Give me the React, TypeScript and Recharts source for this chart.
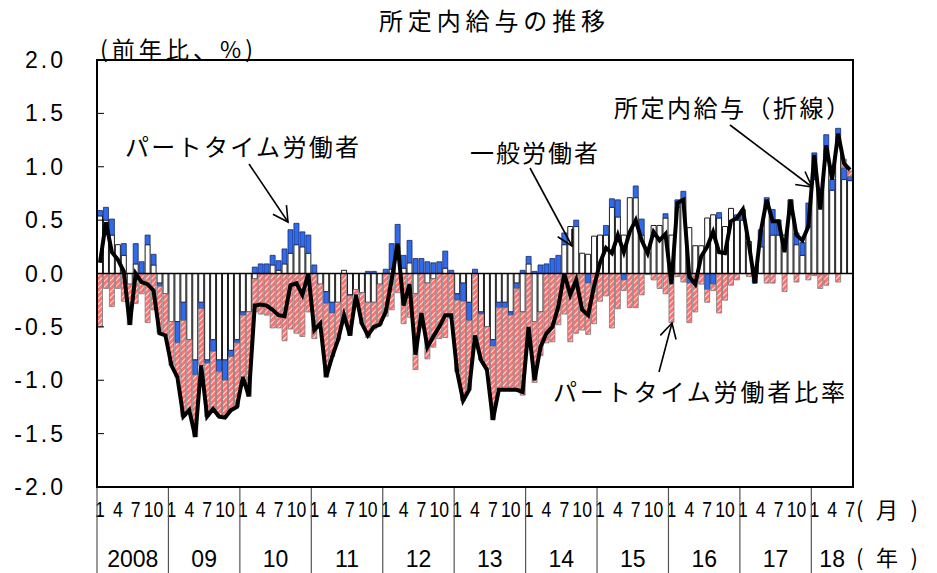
import React from 'react';
import { ComposedChart, Bar, Line, XAxis, YAxis, ReferenceLine } from 'recharts';

const yearLabels = ['2008', '09', '10', '11', '12', '13', '14', '15', '16', '17', '18'];
const monthsPerYear = [12, 12, 12, 12, 12, 12, 12, 12, 12, 12, 7];
const monthTickLabels = [1, 4, 7, 10];
const yTicks = [-2, -1.5, -1, -0.5, 0, 0.5, 1, 1.5, 2];

// 一般労働者 (contribution)
const general = [
  0.54, 0.50, 0.36, 0.27, 0.17, -0.10, 0.09, 0.00, 0.27, 0.08, -0.09, -0.19,
  -0.45, -0.45, -0.27, -0.62, -0.81, -0.27, -0.81, -0.62, -0.81, -0.81, -0.72, -0.62,
  -0.36, -0.36, -0.05, 0.00, 0.00, 0.08, 0.03, 0.09, 0.19, 0.27, 0.25, 0.19,
  0.00, -0.10, -0.17, -0.27, -0.27, 0.03, -0.20, -0.15, -0.18, -0.27, -0.27, -0.10,
  0.00, 0.04, 0.25, 0.05, 0.10, -0.19, 0.00, -0.09, -0.05, 0.00, 0.05, 0.00,
  -0.19, -0.09, -0.27, 0.00, -0.36, -0.50, -0.62, -0.27, -0.27, -0.36, -0.09, -0.36,
  0.09, -0.45, -0.36, 0.00, 0.00, 0.00, 0.27, 0.44, 0.44, 0.19, 0.18, 0.35,
  0.36, 0.36, 0.62, 0.53, 0.36, 0.71, 0.71, 0.36, 0.20, 0.45, 0.45, 0.52,
  0.36, 0.62, 0.70, 0.43, 0.26, 0.26, 0.52, 0.55, 0.52, 0.44, 0.61, 0.50,
  0.50, 0.30, 0.00, 0.25, 0.66, 0.36, 0.36, 0.36, 0.69, 0.27, 0.17, 0.44,
  0.88, 0.74, 1.16, 0.78, 1.25, 0.88, 0.87,
];

// パートタイム労働者 (contribution)
const partTime = [
  0.05, 0.12, 0.15, 0.00, 0.11, 0.00, 0.19, 0.11, 0.09, 0.10, -0.03, 0.00,
  0.00, -0.20, -0.17, 0.00, -0.14, -0.06, -0.03, -0.11, -0.11, -0.19, -0.06, -0.03,
  -0.03, 0.00, 0.06, 0.09, 0.09, 0.09, 0.09, 0.14, 0.22, 0.20, 0.14, 0.17,
  0.08, 0.00, -0.11, -0.10, 0.00, 0.00, -0.01, 0.00, 0.00, 0.02, 0.02, 0.00,
  0.04, 0.24, 0.21, 0.12, 0.21, 0.14, 0.14, 0.11, 0.10, 0.11, 0.16, 0.03,
  -0.06, -0.17, -0.17, 0.04, -0.02, 0.00, -0.06, -0.05, -0.05, -0.03, -0.05, 0.03,
  0.07, 0.02, 0.08, 0.09, 0.14, 0.17, 0.11, 0.00, 0.06, 0.00, -0.09, 0.00,
  0.00, 0.09, 0.08, 0.16, -0.06, 0.00, 0.11, 0.15, 0.00, 0.00, 0.00, 0.04,
  0.00, 0.07, 0.07, -0.09, 0.00, 0.00, -0.15, -0.10, 0.05, 0.00, 0.00, 0.05,
  0.10, 0.00, -0.09, 0.16, 0.05, 0.24, 0.14, 0.00, 0.00, 0.11, 0.12, 0.22,
  0.25, 0.00, 0.14, 0.10, 0.11, 0.11, 0.04,
];

// パートタイム労働者比率 (contribution)
const ptRatio = [
  -0.50, -0.14, -0.31, -0.14, -0.26, -0.38, -0.28, -0.19, -0.46, -0.34, -0.44, -0.39,
  -0.41, -0.32, -0.90, -0.66, -0.58, -0.53, -0.50, -0.54, -0.42, -0.35, -0.50, -0.60,
  -0.58, -0.79, -0.31, -0.38, -0.39, -0.51, -0.51, -0.63, -0.52, -0.56, -0.59, -0.36,
  -0.61, -0.37, -0.69, -0.41, -0.35, -0.42, -0.37, -0.05, -0.29, -0.33, -0.25, -0.38,
  -0.40, -0.34, -0.18, -0.47, -0.41, -0.71, -0.51, -0.71, -0.64, -0.61, -0.60, -0.42,
  -0.67, -0.93, -0.65, -0.62, -0.43, -0.40, -0.69, -0.77, -0.77, -0.70, -0.95, -0.78,
  -0.66, -0.57, -0.41, -0.65, -0.64, -0.48, -0.38, -0.64, -0.56, -0.53, -0.48, -0.47,
  -0.26, -0.21, -0.51, -0.33, -0.10, -0.32, -0.32, -0.20, -0.01, -0.06, -0.14, -0.19,
  -0.46, -0.03, -0.08, -0.37, -0.36, -0.10, -0.12, -0.06, -0.37, -0.25, -0.11, -0.06,
  0.00, -0.03, 0.00, 0.00, -0.09, -0.09, 0.00, -0.17, 0.00, -0.08, 0.00, -0.06,
  -0.02, -0.14, -0.11, 0.00, -0.08, 0.08, 0.05,
];

// 所定内給与 (line)
const wageTotal = [
  0.10, 0.48, 0.20, 0.13, 0.02, -0.48, 0.00, -0.08, -0.10, -0.16, -0.56, -0.58,
  -0.86, -0.97, -1.34, -1.28, -1.53, -0.86, -1.34, -1.27, -1.34, -1.35, -1.28, -1.25,
  -0.97, -1.15, -0.30, -0.29, -0.30, -0.34, -0.39, -0.40, -0.11, -0.09, -0.20, 0.00,
  -0.53, -0.47, -0.97, -0.78, -0.62, -0.39, -0.58, -0.20, -0.47, -0.58, -0.50, -0.48,
  -0.36, -0.06, 0.28, -0.30, -0.10, -0.76, -0.37, -0.69, -0.59, -0.50, -0.39, -0.39,
  -0.92, -1.19, -1.09, -0.58, -0.81, -0.90, -1.37, -1.09, -1.09, -1.09, -1.09, -1.11,
  -0.50, -1.00, -0.69, -0.56, -0.50, -0.31, 0.00, -0.20, -0.06, -0.34, -0.39, -0.12,
  0.10, 0.24, 0.19, 0.36, 0.20, 0.39, 0.50, 0.31, 0.19, 0.39, 0.31, 0.37,
  -0.10, 0.66, 0.69, -0.03, -0.10, 0.16, 0.25, 0.39, 0.20, 0.19, 0.49, 0.52,
  0.60, 0.28, -0.09, 0.39, 0.69, 0.49, 0.49, 0.20, 0.69, 0.36, 0.31, 0.44,
  1.11, 0.60, 1.20, 0.88, 1.31, 1.03, 0.97,
];

type Row = { key: string; month: number; yearIdx: number; gen: number; pt: number; ratio: number; total: number };
const rows: Row[] = [];
{
  let i = 0;
  yearLabels.forEach((y, yi) => {
    for (let m = 1; m <= monthsPerYear[yi]; m++) {
      rows.push({ key: `${y}-${m}`, month: m, yearIdx: yi, gen: general[i], pt: partTime[i], ratio: ptRatio[i], total: wageTotal[i] });
      i++;
    }
  });
}
const rowByKey: Record<string, Row> = {};
rows.forEach((r) => (rowByKey[r.key] = r));

const W = 937;
const H = 573;
const PLOT_L = 97;
const PLOT_T = 60;
const PLOT_R = 853;
const PLOT_B = 487;
const NUM = "'Liberation Sans', Arial, sans-serif";
const JP = "'Noto Sans CJK JP', 'Noto Sans', sans-serif";

const MonthTick = (props: any) => {
  const { x, payload } = props;
  const row = rowByKey[payload.value];
  if (!row) return null;
  const half = payload.offset || (PLOT_R - PLOT_L) / rows.length / 2;
  const parts: React.ReactNode[] = [];
  if (monthTickLabels.includes(row.month)) {
    parts.push(
      <text key="m" transform={`translate(${x},${517}) scale(0.8,1)`} textAnchor="middle" fontFamily={NUM} fontSize={22} fill="#000">
        {row.month}
      </text>
    );
  }
  if (row.month === 1) {
    const left = x - half;
    const span = monthsPerYear[row.yearIdx] * half * 2;
    parts.push(<line key="s" x1={left} x2={left} y1={PLOT_B} y2={H} stroke="#555" strokeWidth={1.2} />);
    parts.push(
      <text key="y" x={left + span / 2} y={567} textAnchor="middle" fontFamily={NUM} fontSize={23} fill="#000">
        {yearLabels[row.yearIdx]}
      </text>
    );
  }
  return <g>{parts}</g>;
};

const ValueTick = (props: any) => {
  const { y, payload } = props;
  return (
    <g>
      <text x={66} y={y + 8} textAnchor="end" fontFamily={NUM} fontSize={23} letterSpacing={3} fill="#000">
        {Number(payload.value).toFixed(1)}
      </text>
      {payload.value > -2 && payload.value < 2 ? (
        <line x1={PLOT_L} x2={PLOT_L + 7} y1={y} y2={y} stroke="#000" strokeWidth={1} />
      ) : null}
    </g>
  );
};

const Arrow = ({ x1, y1, x2, y2 }: { x1: number; y1: number; x2: number; y2: number }) => {
  const ang = Math.atan2(y2 - y1, x2 - x1);
  const L = 17;
  const a = 0.5;
  const w1x = x2 - L * Math.cos(ang - a);
  const w1y = y2 - L * Math.sin(ang - a);
  const w2x = x2 - L * Math.cos(ang + a);
  const w2y = y2 - L * Math.sin(ang + a);
  return (
    <g stroke="#000" strokeWidth={1.6} fill="none">
      <line x1={x1} y1={y1} x2={x2} y2={y2} />
      <polyline points={`${w1x},${w1y} ${x2},${y2} ${w2x},${w2y}`} />
    </g>
  );
};

export default function App() {
  return (
    <div style={{ position: 'absolute', left: 0, top: 0, width: W, height: H, background: '#fff' }}>
      <ComposedChart
        width={W}
        height={H}
        data={rows}
        stackOffset="sign"
        barCategoryGap={0.5}
        margin={{ top: PLOT_T, right: W - PLOT_R, bottom: 0, left: 0 }}
      >
        <defs>
          <pattern id="hatch" patternUnits="userSpaceOnUse" width="4" height="4" patternTransform="rotate(45)">
            <rect width="4" height="4" fill="#ff7272" />
            <line x1="0" y1="0" x2="0" y2="4" stroke="#ffffff" strokeWidth="1.6" />
          </pattern>
        </defs>
        <XAxis
          dataKey="key"
          type="category"
          interval={0}
          height={H - PLOT_B}
          tickLine={false}
          axisLine={false}
          tick={<MonthTick />}
        />
        <YAxis
          type="number"
          domain={[-2, 2]}
          ticks={yTicks}
          width={PLOT_L}
          tickLine={false}
          axisLine={false}
          allowDataOverflow
          tick={<ValueTick />}
        />
        <Bar dataKey="gen" stackId="s" fill="#ffffff" stroke="#000" strokeWidth={0.9} isAnimationActive={false} />
        <Bar dataKey="pt" stackId="s" fill="#2f6bea" stroke="#1a2a66" strokeWidth={0.8} isAnimationActive={false} />
        <Bar dataKey="ratio" stackId="s" fill="url(#hatch)" stroke="#777" strokeWidth={0.8} isAnimationActive={false} />
        <ReferenceLine y={0} stroke="#000" strokeWidth={1.5} />
        <Line dataKey="total" type="linear" stroke="#000" strokeWidth={4} dot={false} isAnimationActive={false} />
      </ComposedChart>
      <svg width={W} height={H} style={{ position: 'absolute', left: 0, top: 0, pointerEvents: 'none' }}>
        <rect x={PLOT_L} y={PLOT_T} width={PLOT_R - PLOT_L} height={PLOT_B - PLOT_T} fill="none" stroke="#000" strokeWidth={2} />
        <text x={492} y={30} textAnchor="middle" fontFamily={JP} fontSize={24} fill="#000" textLength={226} lengthAdjust="spacing">
          所定内給与の推移
        </text>
        <text x={100} y={58} fontFamily={JP} fontSize={23} fill="#000" textLength={153} lengthAdjust="spacing">
          (前年比、%)
        </text>
        <text x={125} y={156} fontFamily={JP} fontSize={24} fill="#000" textLength={234} lengthAdjust="spacing">
          パートタイム労働者
        </text>
        <text x={470} y={162} fontFamily={JP} fontSize={24} fill="#000" textLength={128} lengthAdjust="spacing">
          一般労働者
        </text>
        <text x={614} y={117} fontFamily={JP} fontSize={24} fill="#000" textLength={236} lengthAdjust="spacing">
          所定内給与（折線）
        </text>
        <text x={553} y={401} fontFamily={JP} fontSize={24} fill="#000" textLength={292} lengthAdjust="spacing">
          パートタイム労働者比率
        </text>
        <text x={856} y={518} fontFamily={JP} fontSize={22} fill="#000" textLength={62} lengthAdjust="spacing">
          (月)
        </text>
        <text x={856} y={566} fontFamily={JP} fontSize={22} fill="#000" textLength={62} lengthAdjust="spacing">
          (年)
        </text>
        <Arrow x1={249} y1={164} x2={288} y2={222} />
        <Arrow x1={530} y1={168} x2={572} y2={246} />
        <Arrow x1={730} y1={125} x2={812} y2={187} />
        <Arrow x1={659} y1={372} x2={672} y2={323} />
      </svg>
    </div>
  );
}
